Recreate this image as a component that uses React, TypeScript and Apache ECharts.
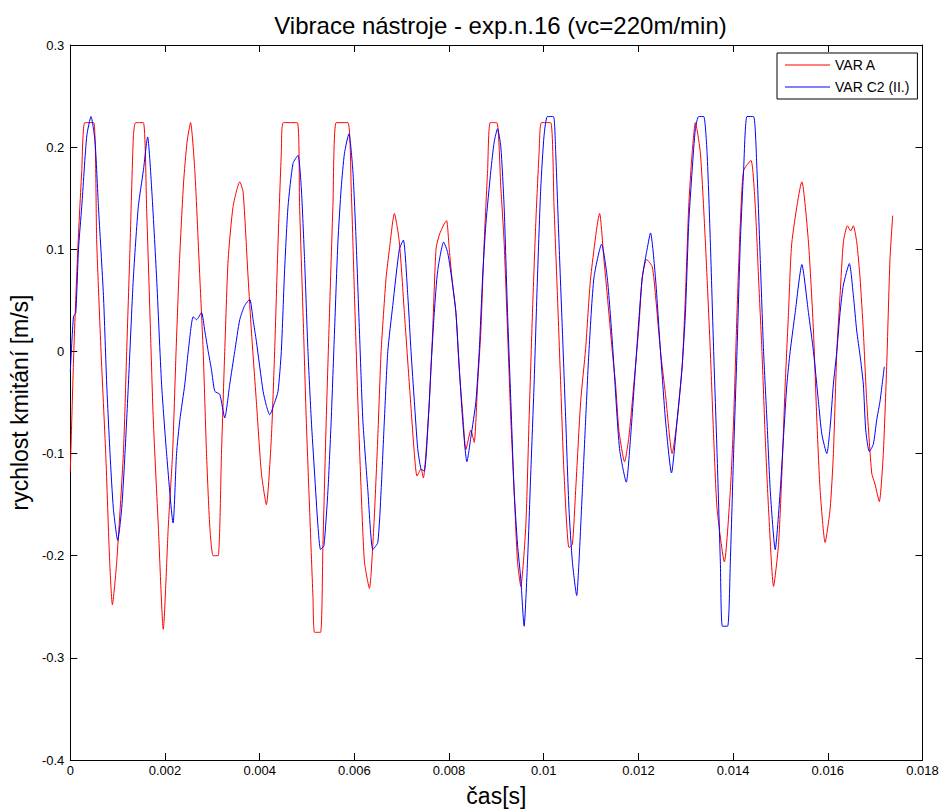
import React, { useEffect, useRef } from "react";
import * as echarts from "echarts";

const TITLE = "Vibrace nástroje - exp.n.16 (vc=220m/min)";
const X_NAME = "čas[s]";
const Y_NAME = "rychlost kmitání [m/s]";
const SERIES_NAMES = ["VAR A", "VAR C2 (II.)"];

const redTime = [
  0, 0.000074, 0.000158, 0.000242, 0.000306, 0.000495, 0.000558, 0.000649, 0.000748, 0.000832,
  0.000889, 0.00098, 0.001121, 0.001191, 0.00126, 0.001332, 0.00138, 0.001543, 0.001612, 0.001682,
  0.001753, 0.001859, 0.001964, 0.00207, 0.00216, 0.002234, 0.002308, 0.002392, 0.002466, 0.00254,
  0.00263, 0.002736, 0.002807, 0.002877, 0.002946, 0.003018, 0.003123, 0.003193, 0.003262, 0.003334,
  0.003439, 0.003579, 0.00365, 0.003756, 0.003825, 0.00393, 0.004036, 0.004141, 0.004247, 0.004316,
  0.004388, 0.004457, 0.004499, 0.004795, 0.004843, 0.004915, 0.004984, 0.005054, 0.005125, 0.005159,
  0.005286, 0.005336, 0.005406, 0.005475, 0.005547, 0.005616, 0.005863, 0.005933, 0.006002, 0.006074,
  0.006143, 0.006213, 0.006318, 0.006411, 0.006495, 0.006565, 0.00667, 0.00674, 0.006845, 0.00695,
  0.007056, 0.007161, 0.007267, 0.007323, 0.007408, 0.007456, 0.007583, 0.007654, 0.007724, 0.007793,
  0.007899, 0.007949, 0.008004, 0.008076, 0.008145, 0.008215, 0.008287, 0.008356, 0.008461, 0.008531,
  0.008603, 0.008672, 0.008742, 0.008814, 0.008868, 0.00901, 0.009094, 0.009163, 0.009235, 0.009305,
  0.009374, 0.009446, 0.009515, 0.009621, 0.00969, 0.009762, 0.009831, 0.009901, 0.009952, 0.010147,
  0.010217, 0.010289, 0.010358, 0.010428, 0.010533, 0.010605, 0.010674, 0.01078, 0.010885, 0.010991,
  0.01118, 0.011271, 0.011342, 0.011448, 0.011517, 0.011587, 0.011707, 0.011798, 0.011903, 0.012009,
  0.01208, 0.012171, 0.012291, 0.01236, 0.012466, 0.012571, 0.012712, 0.012818, 0.012923, 0.012993,
  0.013062, 0.013134, 0.013203, 0.013309, 0.013414, 0.013519, 0.013589, 0.013661, 0.013815, 0.013941,
  0.01401, 0.014082, 0.014152, 0.014221, 0.014377, 0.014468, 0.014537, 0.014609, 0.014678, 0.014748,
  0.014854, 0.014959, 0.01503, 0.0151, 0.01517, 0.015241, 0.015452, 0.015591, 0.015697, 0.015768,
  0.015838, 0.015943, 0.016049, 0.016118, 0.01619, 0.016259, 0.016329, 0.016413, 0.016485, 0.016539,
  0.016611, 0.016681, 0.01675, 0.016822, 0.016927, 0.016997, 0.017087, 0.017172, 0.017243, 0.017313,
  0.01737,
];
const redValue = [
  -0.118, 0, 0.1, 0.177, 0.224, 0.224, 0.107, 0, -0.1, -0.206,
  -0.248, -0.206, -0.1, 0, 0.1, 0.21, 0.224, 0.224, 0.14, 0.037,
  -0.067, -0.171, -0.272, -0.171, -0.1, 0, 0.09, 0.165, 0.205, 0.224,
  0.177, 0.072, 0, -0.1, -0.171, -0.2, -0.2, -0.1, 0, 0.09,
  0.142, 0.166, 0.156, 0.072, 0.02, -0.049, -0.119, -0.15, -0.084, 0,
  0.107, 0.194, 0.224, 0.224, 0.142, 0.038, -0.067, -0.154, -0.24, -0.275,
  -0.275, -0.189, -0.067, 0.038, 0.142, 0.224, 0.224, 0.16, 0.055, -0.049,
  -0.136, -0.206, -0.232, -0.171, -0.084, 0, 0.072, 0.1, 0.135, 0.107,
  0.038, -0.032, -0.1, -0.122, -0.115, -0.124, -0.049, 0.02, 0.1, 0.114,
  0.125, 0.128, 0.1, 0.065, 0.038, -0.018, -0.06, -0.096, -0.077, -0.089,
  -0.032, 0.02, 0.107, 0.177, 0.224, 0.224, 0.16, 0.107, 0.02, -0.067,
  -0.136, -0.206, -0.23, -0.171, -0.067, 0.038, 0.125, 0.194, 0.224, 0.224,
  0.142, 0.055, -0.032, -0.119, -0.192, -0.189, -0.136, -0.049, 0.003, 0.072,
  0.135, 0.09, 0.055, 0, -0.032, -0.077, -0.108, -0.084, -0.032, 0.024,
  0.072, 0.09, 0.083, 0.055, 0, -0.042, -0.1, -0.067, -0.015, 0.055,
  0.142, 0.194, 0.224, 0.194, 0.107, 0, -0.084, -0.154, -0.206, -0.136,
  -0.067, 0.038, 0.125, 0.177, 0.187, 0.142, 0.072, 0, -0.084, -0.154,
  -0.23, -0.189, -0.119, -0.032, 0.038, 0.107, 0.166, 0.107, 0.02, -0.067,
  -0.136, -0.187, -0.154, -0.1, 0, 0.055, 0.107, 0.123, 0.118, 0.123,
  0.107, 0.072, 0.02, -0.049, -0.119, -0.13, -0.147, -0.1, -0.015, 0.09,
  0.133,
];

const blueTime = [
  0, 0.000067, 0.000116, 0.000173, 0.000242, 0.000348, 0.000438, 0.000523, 0.000594, 0.0007,
  0.000769, 0.000839, 0.00091, 0.001001, 0.001085, 0.001155, 0.001227, 0.001332, 0.001437, 0.001543,
  0.001633, 0.001718, 0.001823, 0.001928, 0.002034, 0.002171, 0.002244, 0.002314, 0.002419, 0.002491,
  0.002596, 0.002666, 0.002771, 0.002841, 0.002913, 0.002982, 0.003052, 0.003157, 0.003262, 0.003368,
  0.003473, 0.003579, 0.003684, 0.003789, 0.003861, 0.00393, 0.004072, 0.004141, 0.004211, 0.004316,
  0.004388, 0.004457, 0.004527, 0.004599, 0.004704, 0.004809, 0.004879, 0.004948, 0.00502, 0.00509,
  0.005159, 0.005231, 0.005286, 0.005357, 0.005442, 0.005511, 0.005581, 0.005652, 0.005722, 0.005791,
  0.005884, 0.005968, 0.006038, 0.006107, 0.006179, 0.006285, 0.00639, 0.006495, 0.006565, 0.006634,
  0.006706, 0.006811, 0.00695, 0.007035, 0.007128, 0.007197, 0.007267, 0.007338, 0.007408, 0.007477,
  0.007562, 0.007619, 0.007688, 0.00776, 0.007886, 0.00797, 0.008076, 0.008145, 0.008215, 0.008287,
  0.008377, 0.008461, 0.008567, 0.008637, 0.008708, 0.008778, 0.008883, 0.008953, 0.009024, 0.009094,
  0.009163, 0.009235, 0.009305, 0.009374, 0.009446, 0.009515, 0.009585, 0.009657, 0.009726, 0.009796,
  0.009867, 0.009937, 0.010006, 0.010078, 0.010204, 0.010253, 0.010322, 0.010394, 0.010464, 0.010533,
  0.010605, 0.010696, 0.010744, 0.010816, 0.010885, 0.010955, 0.01106, 0.011222, 0.011342, 0.011448,
  0.011553, 0.011608, 0.011743, 0.011834, 0.011939, 0.012009, 0.01208, 0.012171, 0.012255, 0.01236,
  0.012466, 0.012571, 0.012698, 0.012818, 0.012923, 0.012993, 0.013062, 0.013134, 0.013203, 0.013273,
  0.013378, 0.01345, 0.013519, 0.013589, 0.013661, 0.01373, 0.013772, 0.013884, 0.013941, 0.01401,
  0.014082, 0.014152, 0.014221, 0.014293, 0.014432, 0.014504, 0.014573, 0.014643, 0.014714, 0.014784,
  0.014889, 0.014995, 0.015064, 0.015136, 0.015205, 0.015311, 0.015452, 0.015591, 0.015697, 0.015802,
  0.015874, 0.015979, 0.016049, 0.016118, 0.01619, 0.016259, 0.016329, 0.016455, 0.016539, 0.016611,
  0.016681, 0.01675, 0.016801, 0.016877, 0.016961, 0.017033, 0.017102, 0.017193,
];
const blueValue = [
  -0.02, 0.034, 0.038, 0.1, 0.142, 0.211, 0.23, 0.205, 0.142, 0.055,
  -0.032, -0.1, -0.154, -0.185, -0.154, -0.1, -0.032, 0.072, 0.142, 0.177,
  0.21, 0.16, 0.072, -0.032, -0.1, -0.168, -0.1, -0.067, -0.032, 0,
  0.034, 0.031, 0.038, 0.02, 0, -0.018, -0.039, -0.042, -0.065, -0.032,
  0, 0.031, 0.045, 0.051, 0.031, 0.01, -0.039, -0.053, -0.062, -0.05,
  -0.039, 0, 0.08, 0.142, 0.184, 0.192, 0.16, 0.09, 0, -0.067,
  -0.119, -0.171, -0.194, -0.19, -0.136, -0.067, 0.02, 0.107, 0.16, 0.194,
  0.213, 0.177, 0.107, 0.02, -0.067, -0.136, -0.194, -0.187, -0.136, -0.067,
  0, 0.045, 0.1, 0.109, 0.055, 0, -0.049, -0.095, -0.115, -0.117,
  -0.067, -0.015, 0.038, 0.079, 0.107, 0.097, 0.065, 0.038, -0.015, -0.067,
  -0.108, -0.084, -0.049, 0, 0.072, 0.125, 0.177, 0.205, 0.218, 0.2,
  0.142, 0.038, -0.049, -0.136, -0.189, -0.223, -0.269, -0.206, -0.119, -0.032,
  0.072, 0.16, 0.211, 0.23, 0.23, 0.194, 0.107, 0.02, -0.067, -0.154,
  -0.206, -0.239, -0.206, -0.136, -0.067, 0, 0.072, 0.105, 0.072, 0.01,
  -0.067, -0.098, -0.128, -0.084, -0.015, 0.031, 0.072, 0.097, 0.116, 0.072,
  0, -0.067, -0.119, -0.067, -0.015, 0.038, 0.125, 0.177, 0.218, 0.23,
  0.23, 0.194, 0.107, 0, -0.1, -0.206, -0.269, -0.269, -0.206, -0.1,
  0, 0.107, 0.177, 0.23, 0.23, 0.177, 0.09, 0, -0.067, -0.136,
  -0.194, -0.136, -0.084, -0.032, 0, 0.038, 0.085, 0.038, 0, -0.049,
  -0.081, -0.1, -0.074, -0.032, 0, 0.038, 0.065, 0.086, 0.055, 0.02,
  -0.004, -0.032, -0.077, -0.098, -0.091, -0.067, -0.049, -0.015,
];

const X_MIN = 0;
const X_MAX = 0.018;
const X_STEP = 0.002;
const Y_MIN = -0.4;
const Y_MAX = 0.3;
const Y_STEP = 0.1;

const FONT = "'Liberation Sans Narrow', 'Liberation Sans', Arial, sans-serif";

export default function App() {
  const ref = useRef<HTMLDivElement>(null);
  useEffect(() => {
    if (!ref.current) return;
    const chart = echarts.init(ref.current, undefined, { renderer: "svg" });
    const zip = (t: number[], v: number[]) => t.map((x, i) => [x, v[i]]);
    const fmtX = (v: number) => String(parseFloat(v.toFixed(3)));
    const fmtY = (v: number) => String(parseFloat(v.toFixed(1)));
    const tickStyle = { inside: true, length: 7, lineStyle: { color: "#000", width: 1 } };
    const axisLine = { show: true, onZero: false, lineStyle: { color: "#000", width: 1 } };
    chart.setOption({
      animation: false,
      backgroundColor: "#fff",
      title: {
        text: TITLE,
        left: 495.5,
        top: 8,
        textAlign: "center",
        textStyle: { fontFamily: FONT, fontSize: 24, fontWeight: "normal", color: "#000" },
      },
      legend: {
        data: SERIES_NAMES,
        orient: "vertical",
        left: 777,
        top: 53,
        padding: [5, 8, 5, 8],
        itemGap: 8,
        itemWidth: 45,
        itemHeight: 1,
        icon: "rect",
        borderColor: "#000",
        borderWidth: 1,
        backgroundColor: "#fff",
        textStyle: { fontFamily: FONT, fontSize: 14, color: "#000", lineHeight: 14 },
      },
      grid: { left: 68.5, right: 19.5, top: 45, bottom: 48, containLabel: false },
      xAxis: [
        {
          type: "value",
          min: X_MIN,
          max: X_MAX,
          interval: X_STEP,
          name: X_NAME,
          nameLocation: "middle",
          nameGap: 24,
          nameTextStyle: { fontFamily: FONT, fontSize: 23, color: "#000" },
          axisLine,
          axisTick: tickStyle,
          axisLabel: { formatter: fmtX, fontFamily: FONT, fontSize: 13, color: "#000", margin: 4 },
          splitLine: { show: false },
        },
        {
          type: "value",
          position: "top",
          min: X_MIN,
          max: X_MAX,
          interval: X_STEP,
          axisLine,
          axisTick: tickStyle,
          axisLabel: { show: false },
          splitLine: { show: false },
        },
      ],
      yAxis: [
        {
          type: "value",
          min: Y_MIN,
          max: Y_MAX,
          interval: Y_STEP,
          name: Y_NAME,
          nameLocation: "middle",
          nameGap: 36,
          nameTextStyle: { fontFamily: FONT, fontSize: 23, color: "#000" },
          axisLine,
          axisTick: tickStyle,
          axisLabel: { formatter: fmtY, fontFamily: FONT, fontSize: 13, color: "#000", margin: 6 },
          splitLine: { show: false },
        },
        {
          type: "value",
          position: "right",
          min: Y_MIN,
          max: Y_MAX,
          interval: Y_STEP,
          axisLine,
          axisTick: tickStyle,
          axisLabel: { show: false },
          splitLine: { show: false },
        },
      ],
      series: [
        {
          name: SERIES_NAMES[0],
          type: "line",
          data: zip(redTime, redValue),
          showSymbol: false,
          symbol: "none",
          smooth: 0.2,
          lineStyle: { color: "#ff0000", width: 1 },
          itemStyle: { color: "#ff0000" },
        },
        {
          name: SERIES_NAMES[1],
          type: "line",
          data: zip(blueTime, blueValue),
          showSymbol: false,
          symbol: "none",
          smooth: 0.2,
          lineStyle: { color: "#0000ff", width: 1 },
          itemStyle: { color: "#0000ff" },
        },
      ],
    });
    return () => chart.dispose();
  }, []);
  return (
    <div
      ref={ref}
      style={{ position: "absolute", left: 0, top: 0, width: 942, height: 812, background: "#fff" }}
    />
  );
}
